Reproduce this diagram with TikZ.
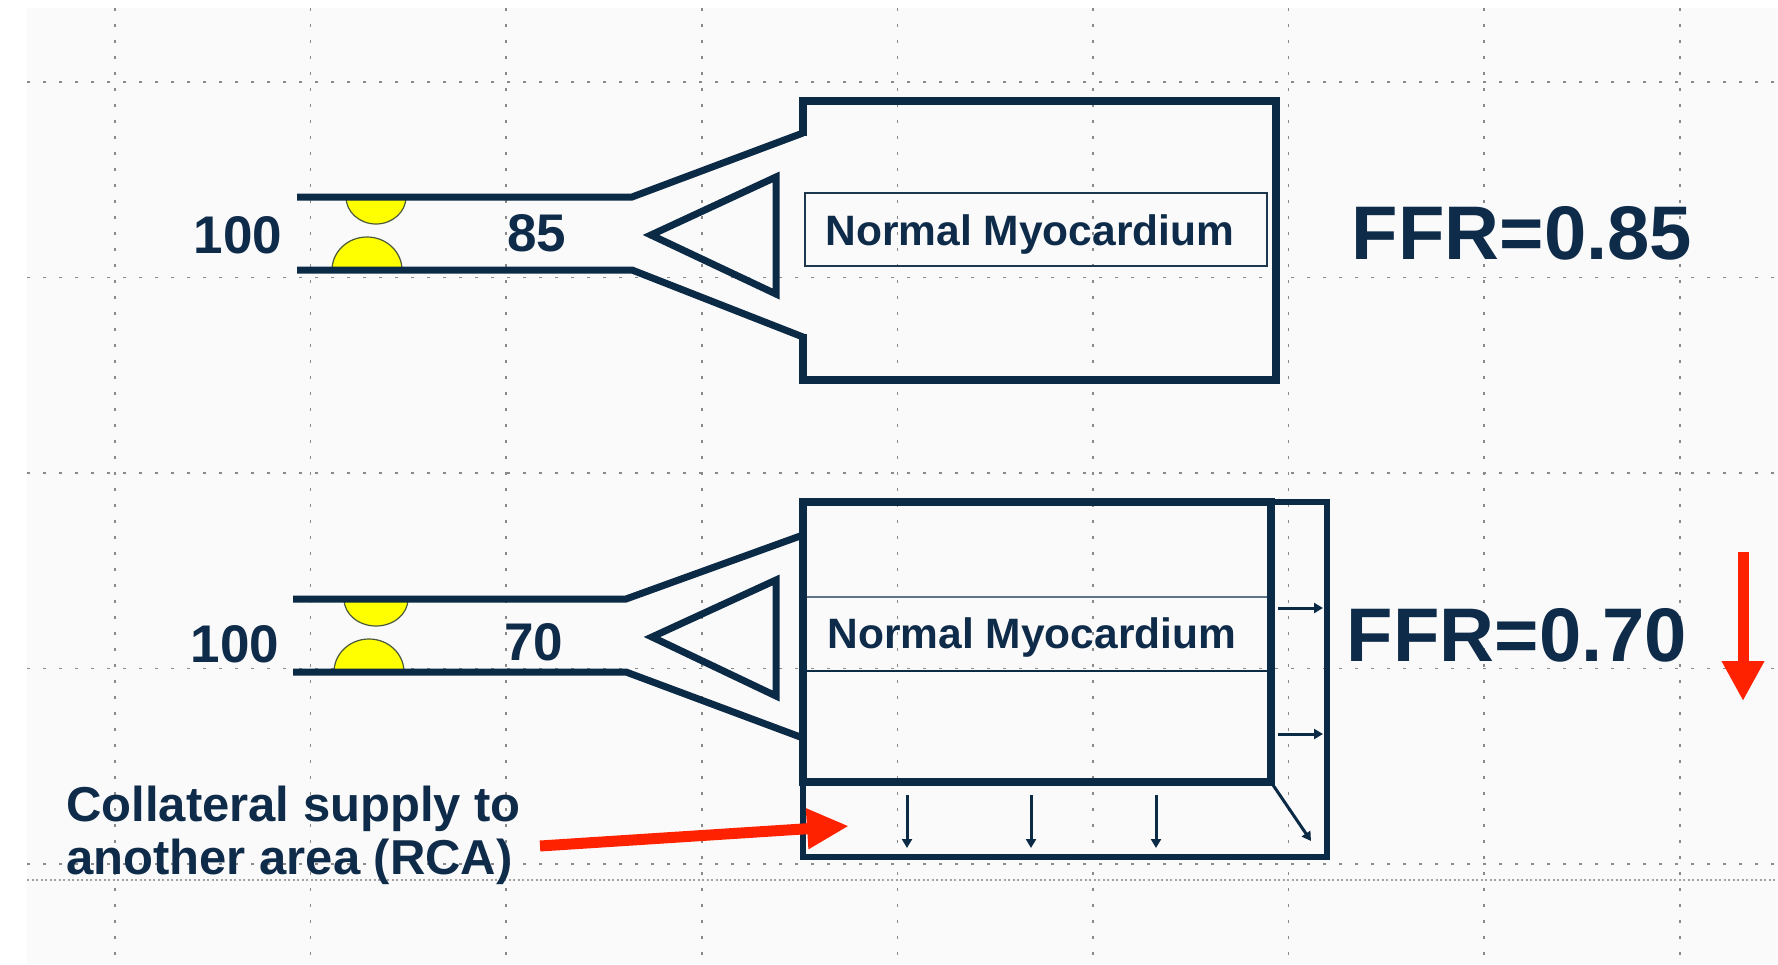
\documentclass[tikz,border=0pt]{standalone}
\usepackage{fontspec}
\setmainfont{Liberation Sans}
\usetikzlibrary{arrows.meta}
\definecolor{navy}{HTML}{0B2A45}
\definecolor{inknavy}{HTML}{0F2B4A}
\definecolor{paper}{HTML}{FAFAFA}
\definecolor{gridc}{HTML}{8A8A8A}
\definecolor{hotred}{HTML}{FF2200}
\definecolor{plaque}{HTML}{FFFF00}
\definecolor{plaqueline}{HTML}{4A5A3A}
\definecolor{bandline}{HTML}{5F7488}

\begin{document}
\begin{tikzpicture}[x=1pt,y=-1pt,
  gridline/.style={gridc, line width=1.6pt, dash pattern=on 2.5pt off 13.5pt},
  densegrid/.style={gridc!80, line width=1.6pt, dash pattern=on 2pt off 2.5pt},
  vessel/.style={navy, line width=7pt, line join=miter},
  wall/.style={navy, line width=7.5pt, line join=miter},
  thinwall/.style={navy, line width=5.5pt, line join=miter},
  plaquefill/.style={fill=plaque, draw=plaqueline, line width=1.2pt},
  labelbox/.style={draw=navy!85!gray, line width=2.5pt, minimum width=462pt,
    minimum height=73pt, inner sep=0pt},
  numtext/.style={inknavy, font=\fontsize{53}{60}\selectfont\bfseries, inner sep=0pt, anchor=base},
  myotext/.style={inknavy, font=\fontsize{42.5}{50}\selectfont\bfseries, inner sep=0pt, anchor=base},
  ffrtext/.style={inknavy, font=\fontsize{76}{86}\selectfont\bfseries, inner sep=0pt, anchor=base},
  notetext/.style={inknavy, font=\fontsize{49}{53}\selectfont\bfseries, inner sep=0pt,
    align=left, anchor=base west},
  flow/.style={navy, line width=3pt, -{Triangle[length=9pt,width=10pt]}},
  redarrow/.style={hotred, line width=11pt, -{Triangle[length=40pt,width=40pt]}}
]
% canvas and page margins
\useasboundingbox (0,0) rectangle (1778,964);
\fill[white] (0,0) rectangle (1778,964);
\fill[paper] (27,8) rectangle (1778,964);

% dotted guide grid
\foreach \k in {0,...,8}
  \draw[gridline] ({115+195.6*\k},8) -- ({115+195.6*\k},964);
\foreach \yy in {82,277.5,473,668.5,864}
  \draw[gridline] (27,\yy) -- (1778,\yy);
\draw[densegrid] (27,880) -- (1778,880);

% ---------- upper vessel: normal myocardium ----------
\draw[plaquefill] (346,197) arc[start angle=180, end angle=0, x radius=30, y radius=27] -- cycle;
\draw[plaquefill] (332,270) arc[start angle=180, end angle=360, x radius=35, y radius=33] -- cycle;

\draw[vessel] (297,197) -- (632,197) -- (803,133);
\draw[vessel] (297,270) -- (632,270) -- (803,337);
\draw[wall] (803,136) -- (803,101) -- (1276,101) -- (1276,380) -- (803,380) -- (803,334);
\draw[vessel] (776,177) -- (651,235) -- (776,294) -- cycle;

\node[labelbox] (boxtop) at (1036,229.5) {};
\node[myotext] (myotop) at (1030,245) {Normal Myocardium};
\node[numtext] (intop) at (238,253) {100};
\node[numtext] (distop) at (537,251) {85};
\node[ffrtext] (ffrtop) at (1522,259) {FFR=0.85};

% ---------- lower vessel: with collateral supply ----------
\draw[plaquefill] (344,599) arc[start angle=180, end angle=0, x radius=32, y radius=27] -- cycle;
\draw[plaquefill] (334,672) arc[start angle=180, end angle=360, x radius=35, y radius=33] -- cycle;

\draw[vessel] (293,599) -- (626,599) -- (803,535);
\draw[vessel] (293,672) -- (626,672) -- (803,738);
\draw[vessel] (776,580) -- (652,637) -- (776,696) -- cycle;

% outer (collateral) territory and inner myocardium
\draw[thinwall] (803,502) -- (1327,502) -- (1327,857) -- (803,857) -- cycle;
\draw[wall] (803,502) rectangle (1271,782);
\draw[bandline, line width=2.5pt] (807,597) -- (1267,597);
\draw[navy, line width=2.5pt] (807,671) -- (1267,671);

\node[myotext] (myobot) at (1032,648) {Normal Myocardium};
\node[numtext] (inbot) at (235,662) {100};
\node[numtext] (disbot) at (534,660) {70};
\node[ffrtext] (ffrbot) at (1517,661) {FFR=0.70};

% flow leaving the myocardium
\coordinate (r1a) at (1278,608);  \coordinate (r1b) at (1323,608);
\coordinate (r2a) at (1278,734);  \coordinate (r2b) at (1323,734);
\coordinate (d1a) at (907,795);   \coordinate (d1b) at (907,848);
\coordinate (d2a) at (1031,795);  \coordinate (d2b) at (1031,848);
\coordinate (d3a) at (1156,795);  \coordinate (d3b) at (1156,848);
\coordinate (cga) at (1273,785);  \coordinate (cgb) at (1311,841);
\draw[flow] (r1a) -- (r1b);
\draw[flow] (r2a) -- (r2b);
\draw[flow] (d1a) -- (d1b);
\draw[flow] (d2a) -- (d2b);
\draw[flow] (d3a) -- (d3b);
\draw[flow] (cga) -- (cgb);

% FFR drop marker
\coordinate (dropa) at (1743,552);
\coordinate (dropb) at (1743,701);
\draw[redarrow] (dropa) -- (dropb);

% collateral note
\node[notetext] (note) at (66,874) {Collateral supply to\\another area (RCA)};
\coordinate (colla) at (540,846);
\coordinate (collb) at (849,826);
\draw[redarrow, line width=11pt, -{Triangle[length=42pt,width=38pt]}] (colla) -- (collb);
\end{tikzpicture}
\end{document}
